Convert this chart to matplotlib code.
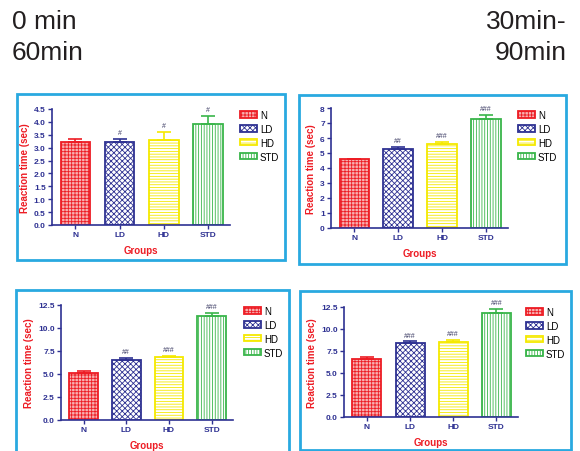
import matplotlib
matplotlib.use('Agg')
import matplotlib.pyplot as plt
from matplotlib.patches import Rectangle

plt.rcParams['font.family'] = ['Liberation Sans', 'DejaVu Sans']
plt.rcParams['hatch.linewidth'] = 0.6

groups = ['N', 'LD', 'HD', 'STD']

# mean reaction time (sec) and upper SEM for each time point
means_0 = [3.21, 3.21, 3.30, 3.92]
errs_0 = [0.11, 0.14, 0.32, 0.30]
marks_0 = ['', '#', '#', '#']

means_30 = [4.62, 5.27, 5.60, 7.29]
errs_30 = [0.0, 0.13, 0.13, 0.24]
marks_30 = ['', '##', '###', '###']

means_60 = [5.07, 6.52, 6.85, 11.27]
errs_60 = [0.22, 0.18, 0.14, 0.40]
marks_60 = ['', '##', '###', '###']

means_90 = [6.59, 8.40, 8.55, 11.86]
errs_90 = [0.19, 0.18, 0.22, 0.41]
marks_90 = ['', '###', '###', '###']

colors = ['#ed1c24', '#2e3192', '#f5e900', '#39b54a']
faces = ['#f8b0b0', '#ffffff', '#ffffff', '#ffffff']
hatches = ['+++++', 'xxxxxx', '------', '||||||']
axis_col = '#2e3192'
label_col = '#ed1c24'
frame_col = '#29a9e0'

W, H = 580, 452
fig = plt.figure(figsize=(W / 100, H / 100), dpi=100)


def fx(px):
    return px / W


def fy(py):
    return 1 - py / H


# panel frames (left, top, right, bottom in pixels)
frames = [(17, 95, 285, 261), (299, 96, 566, 265),
          (16, 291, 289, 460), (300, 292, 571, 451)]
for l, t, r, b in frames:
    fig.patches.append(Rectangle((fx(l), fy(b)), fx(r - l), fy(t) - fy(b),
                                 transform=fig.transFigure, fill=False,
                                 edgecolor=frame_col, linewidth=2.0))

panels = [
    # axes box (x0, y_top, x1, y_bottom), ylim, yticks, fmt, data, legend anchor
    ((52, 110, 230, 226), 4.5, [i * 0.5 for i in range(10)], '{:.1f}',
     means_0, errs_0, marks_0, (240, 111)),
    ((331, 109, 508, 229), 8, list(range(9)), '{:.0f}',
     means_30, errs_30, marks_30, (518, 111)),
    ((61, 306, 233, 421), 12.5, [0, 2.5, 5, 7.5, 10, 12.5], '{:.1f}',
     means_60, errs_60, marks_60, (244, 307)),
    ((344, 308, 518, 418), 12.5, [0, 2.5, 5, 7.5, 10, 12.5], '{:.1f}',
     means_90, errs_90, marks_90, (526, 308)),
]

for (x0, yt, x1, yb), ymax, yticks, fmt, means, errs, marks, leg in panels:
    ax = fig.add_axes([fx(x0), fy(yb), fx(x1 - x0), fy(yt) - fy(yb)])
    x = range(len(groups))
    bars = ax.bar(x, means, width=0.67, color=faces, edgecolor=colors,
                  linewidth=1.3)
    for bar, h in zip(bars, hatches):
        bar.set_hatch(h)
    for i in x:
        ax.errorbar(i, means[i], yerr=[[0], [errs[i]]], fmt='none',
                    ecolor=colors[i], elinewidth=1.2, capsize=5, capthick=1.2)
        if marks[i]:
            ax.text(i, means[i] + errs[i] + ymax * 0.025, marks[i],
                    ha='center', va='bottom', fontsize=5, color='#3c3c64')
    ax.set_xlim(-0.53, 3.5)
    ax.set_ylim(0, ymax)
    ax.set_yticks(yticks)
    ax.set_yticklabels([fmt.format(v) for v in yticks])
    ax.set_xticks(list(x))
    ax.set_xticklabels(groups)
    for side in ['top', 'right']:
        ax.spines[side].set_visible(False)
    for side in ['left', 'bottom']:
        ax.spines[side].set_color(axis_col)
        ax.spines[side].set_linewidth(1.2)
    ax.tick_params(colors=axis_col, width=1.0, length=3, pad=1.5,
                   labelsize=6)
    for lab in ax.get_xticklabels() + ax.get_yticklabels():
        lab.set_fontweight('bold')
        lab.set_color(axis_col)
    ax.set_ylabel('Reaction time (sec)', color=label_col, fontsize=7,
                  fontweight='bold', labelpad=3)
    ax.set_xlabel('Groups', color=label_col, fontsize=7,
                  fontweight='bold', labelpad=5)
    ax.legend(bars, groups, loc='upper left',
              bbox_to_anchor=(fx(leg[0]), fy(leg[1])),
              bbox_transform=fig.transFigure, frameon=False, fontsize=7,
              borderpad=0, borderaxespad=0, handlelength=1.75,
              handleheight=0.6, handletextpad=0.3, labelspacing=0.4)

# time point headers
txt = dict(fontsize=19, color='#231f20', va='center')
fig.text(fx(12), fy(22), '0 min', ha='left', **txt)
fig.text(fx(12), fy(53), '60min', ha='left', **txt)
fig.text(fx(567), fy(22), '30min-', ha='right', **txt)
fig.text(fx(567), fy(53), '90min', ha='right', **txt)

fig.savefig('out.png', dpi=100)
